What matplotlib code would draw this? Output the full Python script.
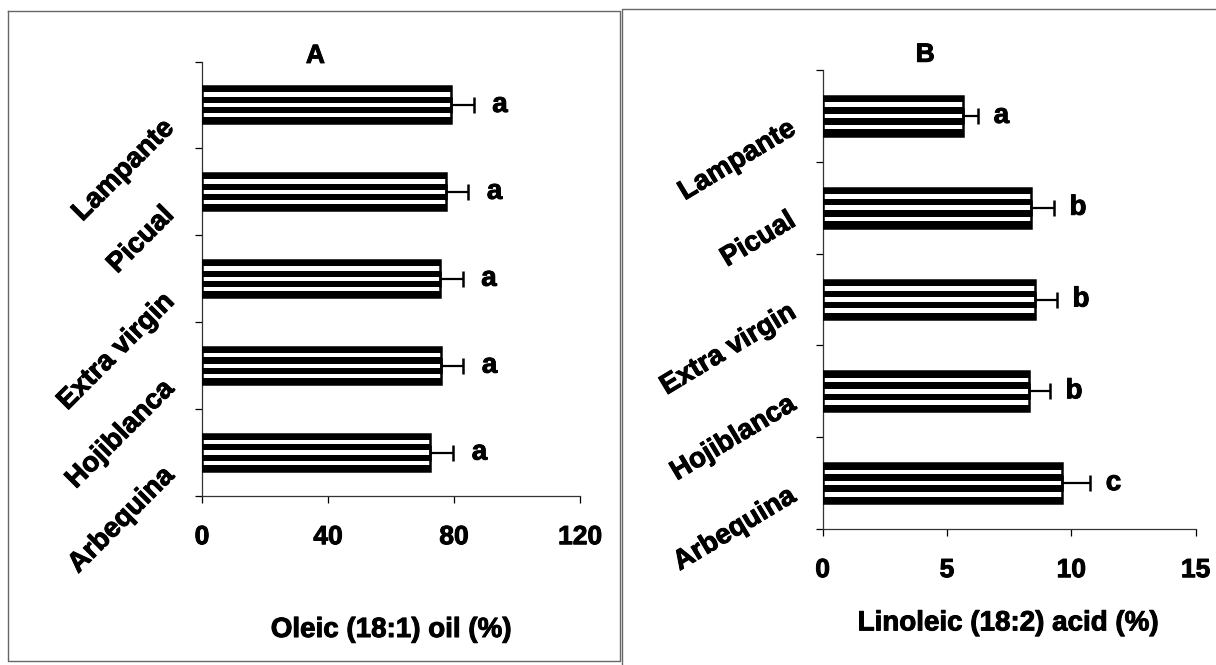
import matplotlib
matplotlib.use('Agg')
import matplotlib.pyplot as plt
import matplotlib.patheffects as pe
from matplotlib.lines import Line2D
import numpy as np

plt.rcParams['font.family'] = ['Liberation Sans', 'DejaVu Sans']
plt.rcParams['font.weight'] = 'bold'

oils = ['Lampante', 'Picual', 'Extra virgin', 'Hojiblanca', 'Arbequina']

oleic = [79.0, 77.3, 75.5, 75.8, 72.4]
oleic_err = [7.2, 7.2, 7.2, 7.1, 7.3]
oleic_letters = ['a', 'a', 'a', 'a', 'a']

linoleic = [5.64, 8.39, 8.54, 8.31, 9.63]
linoleic_err = [0.60, 0.93, 0.90, 0.85, 1.12]
linoleic_letters = ['a', 'b', 'b', 'b', 'c']

# scanned print looks heavier than plain bold
heavy = [pe.withStroke(linewidth=0.7, foreground='black')]


def striped_bars(ax, vals, errs, letters, xmax, xticks, rot, lab_off, let_off, height):
    y = np.arange(len(vals))
    # black bar, then three white gaps, then outline
    ax.barh(y, vals, height=height, color='black', zorder=2)
    for off in (-0.28, 0.0, 0.28):
        ax.barh(y + off * height, vals, height=0.115 * height, color='white', zorder=3)
    ax.barh(y, vals, height=height, fill=False, edgecolor='black', linewidth=1.8, zorder=4)
    ax.errorbar(vals, y, xerr=[np.zeros(len(vals)), errs], fmt='none', ecolor='black',
                elinewidth=1.6, capsize=5.5, capthick=1.8, zorder=5)
    for yi, v, e, s in zip(y, vals, errs, letters):
        ax.annotate(s, xy=(v + e, yi), xytext=(let_off, 0), textcoords='offset points',
                    ha='center', va='center', fontsize=20, fontweight='bold',
                    path_effects=heavy)
    for yi, name in zip(y, oils):
        ax.annotate(name, xy=(0, yi), xycoords=('axes fraction', 'data'),
                    xytext=lab_off, textcoords='offset points', rotation=rot,
                    rotation_mode='anchor', ha='right', va='center',
                    fontsize=20, fontweight='bold', path_effects=heavy)

    ax.set_xlim(0, xmax)
    ax.set_ylim(len(vals) - 0.5, -0.5)
    ax.set_xticks(xticks)
    ax.set_yticks(np.arange(len(vals) + 1) - 0.5)
    ax.set_yticklabels([])
    ax.tick_params(axis='x', direction='out', length=5, width=0.9, pad=16, labelsize=19)
    ax.tick_params(axis='y', direction='out', length=5, width=0.9)
    for lab in ax.get_xticklabels():
        lab.set_fontweight('bold')
        lab.set_path_effects(heavy)
    for sp in ('top', 'right'):
        ax.spines[sp].set_visible(False)
    for sp in ('left', 'bottom'):
        ax.spines[sp].set_linewidth(0.9)
        ax.spines[sp].set_color('#333333')


fig = plt.figure(figsize=(12.16, 6.65), dpi=100)

axA = fig.add_axes([0.1661, 0.2541, 0.3109, 0.6534])
striped_bars(axA, oleic, oleic_err, oleic_letters, 120, [0, 40, 80, 120],
             45, (-23, -14), 19, 0.425)
axA.annotate('A', xy=(0.30, 1.0), xycoords='axes fraction', xytext=(0, 4),
             textcoords='offset points', ha='center', va='center', fontsize=19,
             fontweight='bold', path_effects=heavy)
fig.text(0.3215, 0.0526, 'Oleic (18:1) oil (%)', ha='center', va='center',
         fontsize=20, fontweight='bold', path_effects=heavy)

axB = fig.add_axes([0.6765, 0.2045, 0.3067, 0.6902])
striped_bars(axB, linoleic, linoleic_err, linoleic_letters, 15, [0, 5, 10, 15],
             31, (-21, -8), 17, 0.435)
axB.annotate('B', xy=(0.275, 1.0), xycoords='axes fraction', xytext=(0, 11),
             textcoords='offset points', ha='center', va='center', fontsize=19,
             fontweight='bold', path_effects=heavy)
fig.text(0.829, 0.0626, 'Linoleic (18:2) acid (%)', ha='center', va='center',
         fontsize=20, fontweight='bold', path_effects=heavy)

# panel frames from the scanned figure
frame = dict(color='#666666', linewidth=1.0, transform=fig.transFigure)
fig.add_artist(Line2D([0.0066, 0.5099, 0.5099, 0.0066, 0.0066],
                      [0.9835, 0.9835, 0.006, 0.006, 0.9835], **frame))
fig.add_artist(Line2D([0.5115, 0.5115, 1.0], [0.0, 0.9865, 0.9865], **frame))

fig.savefig('out.png', dpi=100)
